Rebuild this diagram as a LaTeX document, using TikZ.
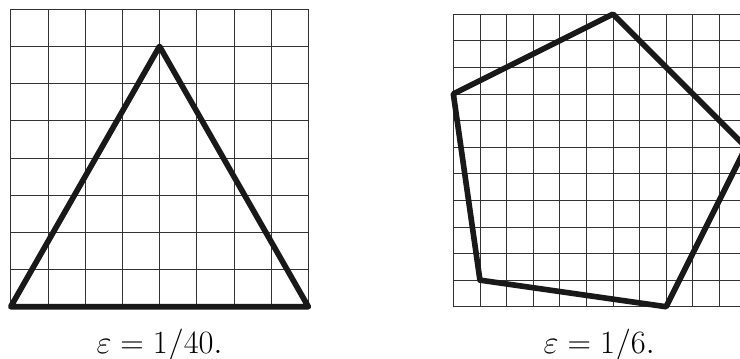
\documentclass[tikz,border=0pt]{standalone}
\usetikzlibrary{positioning}

\begin{document}
\begin{tikzpicture}[gridline/.style={black!80, line width=0.6pt},
  outline/.style={black!90, line width=4.3pt, line join=round, line cap=round},
  caption/.style={anchor=base, font=\fontsize{27}{32}\selectfont}]
\useasboundingbox (-0.288,-1.379) rectangle (19.604,8.245);
% left: triangle on the 8x8 lattice
\draw[gridline] (0,0) grid (8,8);
\draw[outline] (0,0) -- (4,7) -- (8,0) -- cycle;
\node (lefteps) [caption] at (4,-1.253) {$\varepsilon = 1/40.$};
% right: pentagon on the 11x11 lattice
\begin{scope}[shift={(11.898,0)}, scale=0.715]
\draw[gridline] (0,0) grid (11,11);
\draw[outline] (6,11) -- (0,8) -- (1,1) -- (8,0) -- (11,6) -- cycle;
\end{scope}
\node (righteps) [caption] at (15.82,-1.253) {$\varepsilon = 1/6.$};
\end{tikzpicture}
\end{document}
